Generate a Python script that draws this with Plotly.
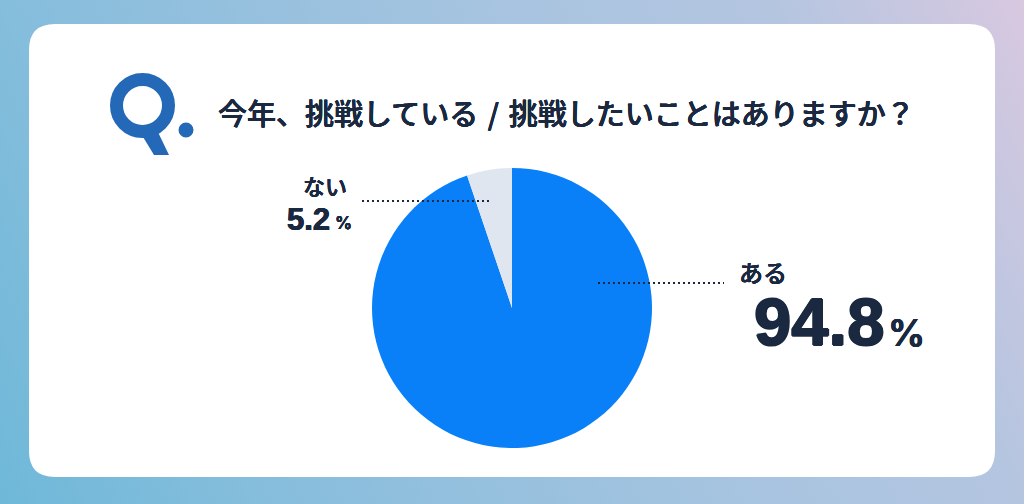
import base64
import plotly.graph_objects as go

W, H = 1024, 504
labels = ["ある", "ない"]
values = [94.8, 5.2]
colors = ["#0a80f8", "#dfe6ef"]
title = "今年、挑戦している\u2004/\u2004挑戦したいことはありますか？"
INK = "#1a2840"
JP = "Noto Sans CJK JP"
NUM = "Liberation Sans"
PCT = "Inter"
QBLUE = "#2468b8"


def X(p):
    return p / W


def Y(p):
    return 1 - p / H


svg = (
    '<svg xmlns="http://www.w3.org/2000/svg" width="1024" height="504" preserveAspectRatio="none">'
    '<defs><linearGradient id="g" gradientUnits="userSpaceOnUse" x1="0" y1="504" x2="1017" y2="-13">'
    '<stop offset="0" stop-color="#6fb8d8"/><stop offset="0.2" stop-color="#85bddc"/>'
    '<stop offset="0.6" stop-color="#a8c4e0"/><stop offset="0.8" stop-color="#b4c5e0"/>'
    '<stop offset="1" stop-color="#d8c8e0"/></linearGradient></defs>'
    '<rect width="1024" height="504" fill="url(#g)"/></svg>'
)
bg = "data:image/svg+xml;base64," + base64.b64encode(svg.encode()).decode()

fig = go.Figure(
    go.Pie(
        labels=labels,
        values=values,
        sort=False,
        direction="clockwise",
        rotation=0,
        marker=dict(colors=colors, line=dict(width=0)),
        textinfo="none",
        hoverinfo="label+percent",
        showlegend=False,
        domain=dict(x=[X(372), X(652)], y=[Y(448), Y(168)]),
    )
)

# rounded white card
l, r, t, b, c = 29, 995, 24, 477, 26
card = (
    f"M{l+c},{t} L{r-c},{t} Q{r},{t} {r},{t+c} L{r},{b-c} Q{r},{b} {r-c},{b} "
    f"L{l+c},{b} Q{l},{b} {l},{b-c} L{l},{t+c} Q{l},{t} {l+c},{t} Z"
)
shapes = [
    dict(type="path", path=card, xref="x", yref="y", fillcolor="white", line_width=0, layer="below"),
    # Q mark
    dict(type="circle", xref="x", yref="y", x0=116.5, x1=168.5, y0=79.5, y1=131.5,
         line=dict(color=QBLUE, width=13), fillcolor="rgba(0,0,0,0)", layer="above"),
    dict(type="path", xref="x", yref="y", path="M140,132 L156,128 L169,155 L154,155 Z",
         fillcolor=QBLUE, line_width=0, layer="above"),
    dict(type="circle", xref="x", yref="y", x0=178.5, x1=193.5, y0=122.5, y1=137.5,
         fillcolor=QBLUE, line_width=0, layer="above"),
    # leader lines
    dict(type="line", xref="x", yref="y", x0=362, x1=489, y0=201, y1=201,
         line=dict(color=INK, width=2, dash="2px,3px"), layer="above"),
    dict(type="line", xref="x", yref="y", x0=598, x1=724, y0=283, y1=283,
         line=dict(color=INK, width=2, dash="2px,3px"), layer="above"),
]


def note(text, x, y, size, family=JP, weight=500, anchor="center", shadow=None):
    font = dict(family=family, size=size, color=INK, weight=weight)
    if shadow:
        font["shadow"] = f"{shadow}px 0 0 {INK}, -{shadow}px 0 0 {INK}, 0 {shadow}px 0 {INK}, 0 -{shadow}px 0 {INK}"
    return dict(text=text, x=x, y=y, xref="x", yref="y", showarrow=False, xanchor=anchor,
                yanchor="middle", font=font)


annotations = [
    note(title, 216, 112, 29, shadow=0.2, anchor="left"),
    note(labels[0], 763, 271, 24, shadow=0.25),
    note(f"{values[0]}", 819, 321, 67, NUM, 700, shadow=1),
    note("%", 906, 332, 37, PCT, 600, shadow=0.4),
    note(labels[1], 325, 185, 22, shadow=0.3),
    note(f"{values[1]}", 308, 219, 31, NUM, 700, shadow=0.4),
    note("%", 343, 223, 17, PCT, 600, shadow=0.2),
]

fig.update_layout(
    width=W,
    height=H,
    autosize=False,
    margin=dict(l=0, r=0, t=0, b=0),
    paper_bgcolor="rgba(0,0,0,0)",
    plot_bgcolor="rgba(0,0,0,0)",
    xaxis=dict(range=[0, W], visible=False, fixedrange=True, domain=[0, 1]),
    yaxis=dict(range=[H, 0], visible=False, fixedrange=True, domain=[0, 1]),
    images=[dict(source=bg, xref="paper", yref="paper", x=0, y=1, sizex=1, sizey=1,
                 xanchor="left", yanchor="top", sizing="stretch", layer="below")],
    shapes=shapes,
    annotations=annotations,
)
fig.write_html(
    "out.html",
    config={"displayModeBar": False, "responsive": False},
    post_script="document.body.style.margin='0';document.body.style.overflow='hidden';",
)
